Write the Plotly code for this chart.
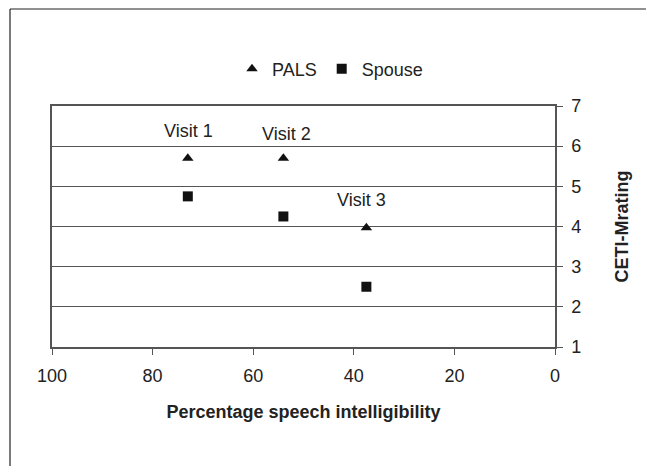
import plotly.graph_objects as go

intelligibility = [73, 54, 37.5]
pals_rating = [5.7, 5.7, 3.97]
spouse_rating = [4.75, 4.25, 2.5]
visit_labels = ["Visit 1", "Visit 2", "Visit 3"]
x_ticks = [100, 80, 60, 40, 20, 0]
y_ticks = [1, 2, 3, 4, 5, 6, 7]

FONT = "Liberation Sans, Arial, sans-serif"
AX = "#555555"

fig = go.Figure()
fig.add_trace(go.Scatter(x=intelligibility, y=pals_rating, mode="markers", name="PALS",
                         marker=dict(symbol="triangle-up", size=10, color="#111111")))
fig.add_trace(go.Scatter(x=intelligibility, y=spouse_rating, mode="markers", name="Spouse",
                         marker=dict(symbol="square", size=10, color="#111111")))

label_pos = [(72.9, 6.37), (53.3, 6.3), (38.4, 4.66)]
for lab, (lx, ly) in zip(visit_labels, label_pos):
    fig.add_annotation(x=lx, y=ly, text=lab, showarrow=False,
                       font=dict(family=FONT, size=18, color="#222222"))

# outer frame (only left and top edges fall inside the picture)
fig.add_shape(type="line", xref="paper", yref="paper", x0=-0.0835, x1=-0.0835, y0=-1.0, y1=1.4025,
              line=dict(color="#222222", width=1.2), layer="below")
fig.add_shape(type="line", xref="paper", yref="paper", x0=-0.0835, x1=1.6, y0=1.4025, y1=1.4025,
              line=dict(color="#222222", width=1.2), layer="below")

fig.update_layout(
    width=646, height=466,
    margin=dict(l=52, r=91, t=106, b=119),
    paper_bgcolor="white", plot_bgcolor="white",
    font=dict(family=FONT, size=18, color="#222222"),
    showlegend=True,
    legend=dict(orientation="h", x=0.5527, y=1.1535, xanchor="center", yanchor="middle",
                font=dict(size=18), itemwidth=30, bgcolor="rgba(0,0,0,0)"),
    xaxis=dict(range=[100, 0], tickvals=x_ticks, ticks="outside", ticklen=6, tickcolor=AX,
               ticklabelstandoff=6,
               showline=True, linecolor=AX, linewidth=1.5, mirror=True,
               showgrid=False, zeroline=False,
               title=dict(text="<b>Percentage speech intelligibility</b>", standoff=20,
                          font=dict(size=18))),
    yaxis=dict(range=[1, 7], tickvals=y_ticks, side="right", ticks="outside", ticklen=6,
               tickcolor=AX, ticklabelstandoff=5,
               showline=True, linecolor=AX, linewidth=1.5, mirror=True,
               showgrid=True, gridcolor=AX, gridwidth=1.3, zeroline=False,
               title=dict(text="<b>CETI-Mrating</b>", standoff=35, font=dict(size=18))),
)

fig.write_html(
    "out.html", config={"displayModeBar": False},
    post_script=("document.documentElement.style.overflow='hidden';"
                 "document.body.style.margin='0';document.body.style.overflow='hidden';"))
